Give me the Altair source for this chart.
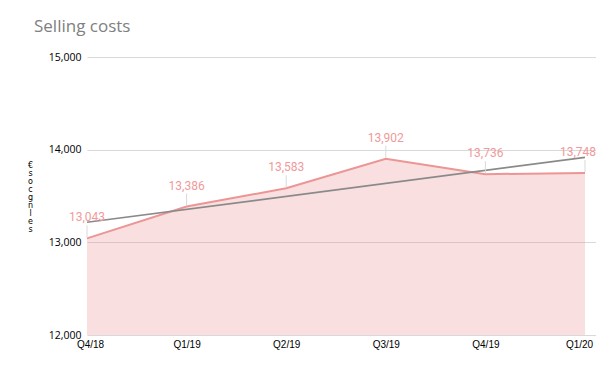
import altair as alt
import pandas as pd

quarters = ["Q4/18", "Q1/19", "Q2/19", "Q3/19", "Q4/19", "Q1/20"]
values = [13043, 13386, 13583, 13902, 13736, 13748]
y_ticks = [12000, 13000, 14000, 15000]
y_title_chars = ["€", "s", "o", "c", "g", "n", "l", "e", "s"]

df = pd.DataFrame({"i": list(range(len(quarters))), "q": quarters, "value": values})
last_i = len(quarters) - 1

label_expr = "[" + ",".join("'" + q + "'" for q in quarters) + "][datum.value]"

W = 509
H = 278
x_max = last_i * W / 498.0

x_enc = alt.X(
    "i:Q",
    scale=alt.Scale(domain=[0, x_max], nice=False, zero=False),
    axis=alt.Axis(
        values=list(range(len(quarters))),
        labelExpr=label_expr,
        labelFlush=False,
        labelOverlap=False,
        labelOffset={
            "condition": [
                {"test": f"datum.value == {last_i}", "value": -6},
                {"test": "datum.value == 0", "value": 3},
            ],
            "value": 0,
        },
        grid=False,
        ticks=False,
        domain=False,
        labelFont="Liberation Sans",
        labelFontSize=10,
        labelColor="#000000",
        labelPadding=4,
        title=None,
    ),
)

y_scale = alt.Scale(domain=[12000, 15000], nice=False, zero=False)

y_enc = alt.Y(
    "value:Q",
    scale=y_scale,
    axis=alt.Axis(
        values=y_ticks,
        labelExpr="format(datum.value, ',')",
        labelFlush=False,
        labelOverlap=False,
        grid=True,
        gridColor="#d9d9d9",
        ticks=False,
        domain=False,
        labelFont="Open Sans",
        labelFontSize=10.5,
        labelColor="#000000",
        labelPadding=6,
        title=y_title_chars,
        titleAngle=0,
        titleFont="DejaVu Sans",
        titleFontSize=8,
        titleFontWeight="normal",
        titleLineHeight=8,
        titleColor="#000000",
        titleAlign="center",
        titleBaseline="top",
        titleX=-57,
        titleY=104,
    ),
)

base = alt.Chart(df)

area = base.mark_area(color="#eb9494", opacity=0.3).encode(
    x=x_enc, y=y_enc, y2=alt.datum(12000)
)

line = base.mark_line(color="#ec9595", strokeWidth=2).encode(x="i:Q", y="value:Q")

trend = (
    base.transform_regression("i", "value", extent=[0, last_i])
    .mark_line(color="#8a8a8a", strokeWidth=1.75)
    .encode(x="i:Q", y="value:Q")
)

leaders = base.mark_rule(color="#d9d9d9", strokeWidth=1, yOffset=-1, y2Offset=-13).encode(
    x="i:Q", y="value:Q", y2="value:Q"
)

labels = (
    base.transform_filter(alt.datum.i < last_i)
    .mark_text(color="#f09a9a", font="Roboto", fontSize=12, dy=-21, baseline="middle", align="center")
    .encode(x="i:Q", y="value:Q", text=alt.Text("value:Q", format=","))
)

labels_last = (
    base.transform_filter(alt.datum.i == last_i)
    .mark_text(color="#f09a9a", font="Roboto", fontSize=12, dy=-21, dx=-7, baseline="middle", align="center")
    .encode(x="i:Q", y="value:Q", text=alt.Text("value:Q", format=","))
)

chart = (
    alt.layer(area, line, trend, leaders, labels, labels_last)
    .properties(
        width=W,
        height=H,
        autosize=alt.AutoSizeParams(type="none"),
        padding={"left": 79, "top": 49, "right": 0, "bottom": 30},
        title=alt.TitleParams(
            "Selling costs",
            anchor="start",
            frame="group",
            font="Open Sans",
            fontSize=17,
            fontWeight="normal",
            color="#808080",
            dx=-53,
            offset=16,
        ),
    )
    .configure_view(stroke=None)
)

chart.save("out.html", embed_options={"renderer": "svg", "actions": False})
